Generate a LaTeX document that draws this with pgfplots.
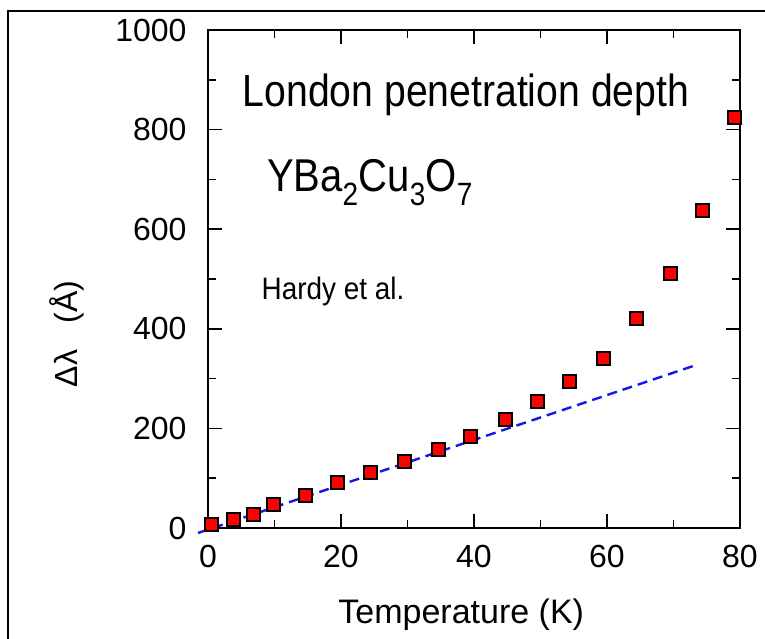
\documentclass[border=0pt]{standalone}
\usepackage{pgfplots}
\pgfplotsset{compat=1.18}
\usepackage{fontspec}
\setmainfont{Liberation Sans}

\definecolor{ptRed}{RGB}{255,0,0}
\definecolor{fitBlue}{RGB}{20,20,235}

\begin{document}
\begin{tikzpicture}[x=1pt,y=1pt]
\path[use as bounding box] (0,0) rectangle (765,639);
% scanned page frame
\draw[line width=1.5pt] (8,0) -- (8,628) -- (765,628);

\begin{axis}[
    at={(208pt,111pt)}, anchor=south west,
    scale only axis,
    width=532pt, height=498pt,
    xmin=0, xmax=80, ymin=0, ymax=1000,
    xtick={0,20,...,80}, ytick={0,200,...,1000},
    minor tick num=1,
    tick align=inside,
    major tick length=14pt, minor tick length=8pt,
    every tick/.style={black, line width=1.5pt},
    axis line style={line width=1.8pt},
    clip=false,
    /pgf/number format/assume math mode=true,
    /pgf/number format/1000 sep={},
    tick label style={font=\fontsize{32}{36}\selectfont},
    xticklabel style={yshift=-14pt},
    yticklabel style={xshift=-18pt},
    xlabel={Temperature (K)},
    ylabel={Δλ\ \ \ (Å)},
    every axis x label/.style={at={(axis description cs:0.476,-0.175)}, anchor=center,
        font=\fontsize{34}{40}\selectfont},
    every axis y label/.style={at={(axis description cs:-0.265,0.39)}, anchor=center, rotate=90,
        font=\fontsize{32}{38}\selectfont},
]
% linear fit at low temperature
\addplot[fitBlue, line width=2.4pt, dash pattern=on 10pt off 6pt] coordinates {(-1.5,-10) (72.9,325)};
% measured points
\addplot[only marks, mark=square*, mark size=6.5pt,
    mark options={fill=ptRed, draw=black, line width=2pt}] coordinates {
    (0.6,8) (3.8,18) (6.8,28) (9.8,48) (14.6,66) (19.5,92) (24.5,112)
    (29.5,133) (34.6,157) (39.5,183) (44.7,217) (49.6,255) (54.3,295)
    (59.4,341) (64.4,420) (69.5,512) (74.4,637) (79.2,825)};
\end{axis}

\node[anchor=base, xscale=0.87, font=\fontsize{45}{50}\selectfont] at (466,532) {London penetration depth};
\node[anchor=base, xscale=0.87, font=\fontsize{46}{50}\selectfont] at (370,447) {YBa\textsubscript{2}Cu\textsubscript{3}O\textsubscript{7}};
\node[anchor=base, xscale=0.9, font=\fontsize{31}{36}\selectfont] at (333,339) {Hardy et al.};
\end{tikzpicture}
\end{document}
